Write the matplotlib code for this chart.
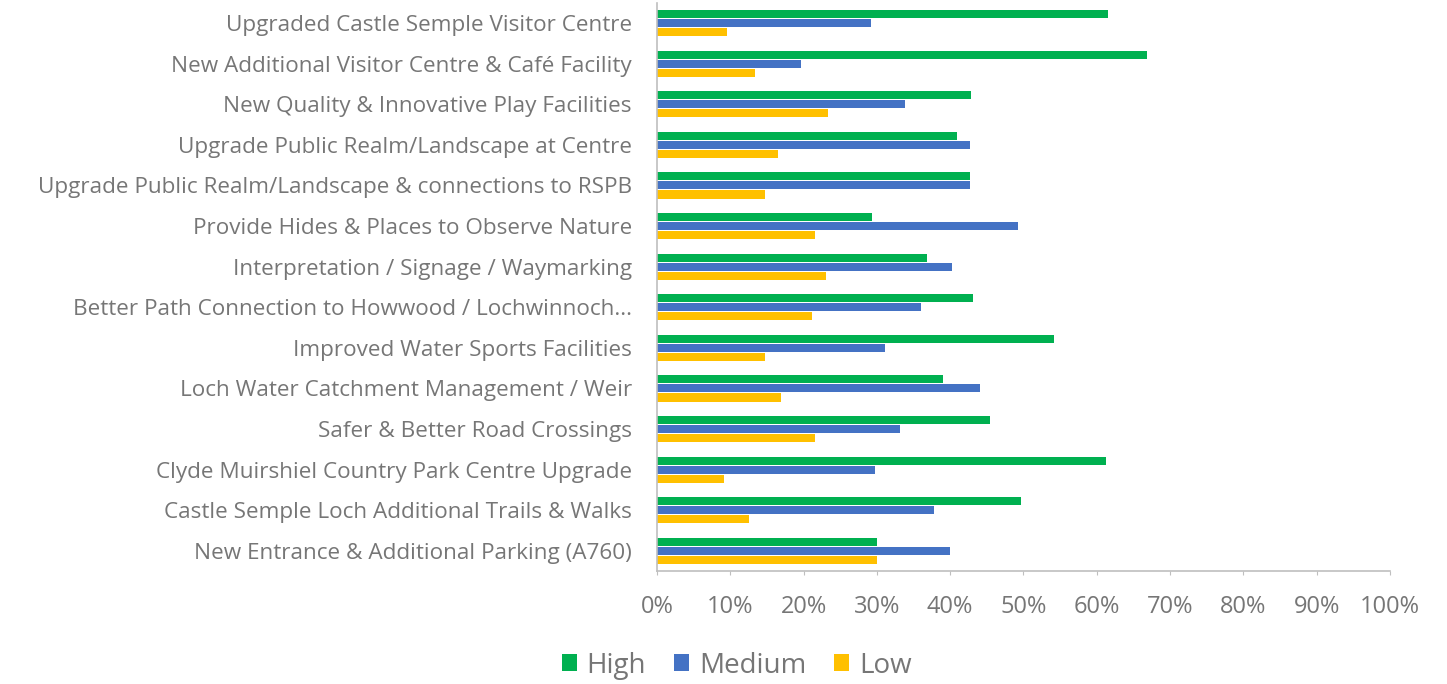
import numpy as np
import matplotlib.pyplot as plt
from matplotlib.ticker import PercentFormatter

plt.rcParams['font.family'] = ['Open Sans', 'DejaVu Sans']

categories = [
    "Upgraded Castle Semple Visitor Centre",
    "New Additional Visitor Centre & Café Facility",
    "New Quality & Innovative Play Facilities",
    "Upgrade Public Realm/Landscape at Centre",
    "Upgrade Public Realm/Landscape & connections to RSPB",
    "Provide Hides & Places to Observe Nature",
    "Interpretation / Signage / Waymarking",
    "Better Path Connection to Howwood / Lochwinnoch...",
    "Improved Water Sports Facilities",
    "Loch Water Catchment Management / Weir",
    "Safer & Better Road Crossings",
    "Clyde Muirshiel Country Park Centre Upgrade",
    "Castle Semple Loch Additional Trails & Walks",
    "New Entrance & Additional Parking (A760)",
]
high = [61.5, 66.9, 42.8, 41.0, 42.7, 29.4, 36.9, 43.1, 54.1, 39.0, 45.5, 61.2, 49.6, 30.0]
medium = [29.2, 19.6, 33.9, 42.7, 42.7, 49.2, 40.2, 36.0, 31.1, 44.1, 33.1, 29.8, 37.8, 40.0]
low = [9.5, 13.4, 23.4, 16.5, 14.8, 21.5, 23.0, 21.1, 14.7, 16.9, 21.5, 9.1, 12.6, 30.0]

series = [("High", high, "#00B050"), ("Medium", medium, "#4472C4"), ("Low", low, "#FFC000")]
grey = "#767676"

fig = plt.figure(figsize=(14.47, 6.84), dpi=100)
ax = fig.add_axes([0.454, 0.165, 0.5066, 0.831])

y = np.arange(len(categories))
off = 0.222
for i, (name, vals, col) in enumerate(series):
    ax.barh(y + (i - 1) * off, vals, height=0.2, color=col, label=name)

ax.set_xlim(0, 100)
ax.set_ylim(len(categories) - 0.5, -0.5)
ax.set_xticks(np.arange(0, 101, 10))
ax.xaxis.set_major_formatter(PercentFormatter(decimals=0))
ax.set_yticks(y)
ax.set_yticklabels(categories)

for s in ["top", "right"]:
    ax.spines[s].set_visible(False)
for s in ["left", "bottom"]:
    ax.spines[s].set_color("#BFBFBF")
    ax.spines[s].set_linewidth(1.2)
ax.tick_params(axis="y", length=0, pad=18, labelsize=16.2, labelcolor=grey)
ax.tick_params(axis="x", length=3, color="#BFBFBF", pad=14, labelsize=17, labelcolor=grey)

leg = fig.legend(loc="center", bbox_to_anchor=(0.509, 0.027), ncol=3, frameon=False,
                 fontsize=20, handlelength=0.55, handleheight=0.55, handletextpad=0.35,
                 columnspacing=1.0, labelcolor=grey)

fig.savefig("out.png", dpi=100)
